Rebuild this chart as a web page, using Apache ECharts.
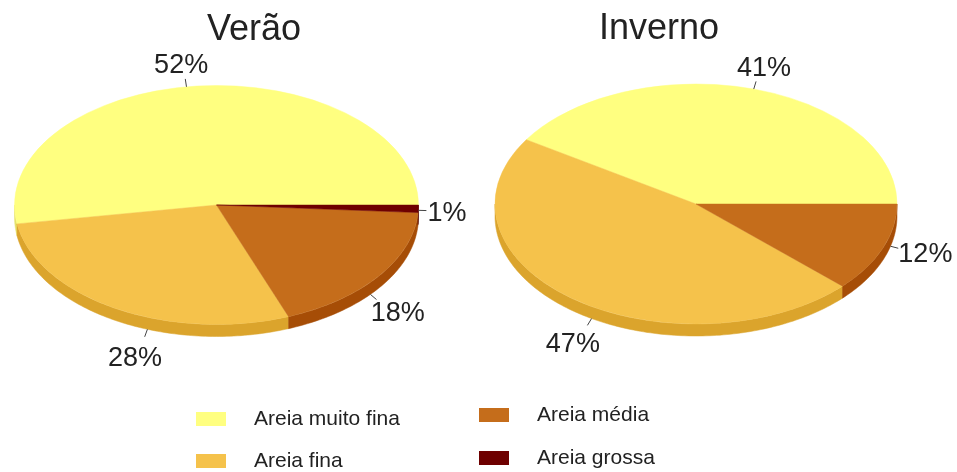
<!DOCTYPE html>
<html>
<head>
<meta charset="utf-8">
<script src="https://cdn.jsdelivr.net/npm/echarts@6/dist/echarts.min.js"></script>
<style>
html, body { margin: 0; padding: 0; background: #fff; }
#chart { width: 957px; height: 472px; }
</style>
</head>
<body>
<div id="chart"></div>
<script>
// tipos de areia (legenda)
var categories = ['Areia muito fina', 'Areia fina', 'Areia média', 'Areia grossa'];
var seasons = ['Verão', 'Inverno'];
// % por estação, na ordem de categories
var verao = [52, 28, 18, 1];
var inverno = [41, 47, 12, 0];

var topColors = ['#FFFF80', '#F5C24B', '#C56D1B', '#6E0000'];
var sideColors = ['#E6E26A', '#DBA42C', '#A64D06', '#4E0000'];

var seasonData = [verao, inverno];
// layout de cada pizza "3D": centro, raios, espessura, ajuste do angulo dos rotulos
var pies = [
  { cx: 216.5, cy: 205, rx: 202, ry: 119.5, depth: 12, titleX: 254, titleY: 30, labelShift: [4, 10, -4, 0] },
  { cx: 696, cy: 204, rx: 201, ry: 120, depth: 12, titleX: 659, titleY: 29, labelShift: [-0.5, 6.5, 7, 0] }
];
var FONT = '"Liberation Sans", Arial, sans-serif';
var RAD = Math.PI / 180;

var measureCtx = document.createElement('canvas').getContext('2d');
function textWidth(str, size) {
  measureCtx.font = size + 'px ' + FONT;
  return measureCtx.measureText(str).width;
}

// angulo inicial / final (graus, anti-horario a partir das 3h)
function sliceAngles(values, idx) {
  var total = values.reduce(function (a, b) { return a + b; }, 0);
  var before = 0;
  for (var i = 0; i < idx; i++) before += values[i];
  return [before / total * 360, (before + values[idx]) / total * 360];
}

function renderSlice(params, api) {
  var cat = params.seriesIndex;
  var s = params.dataIndex;
  var value = api.value(0);
  if (!value) return null;
  var p = pies[s];
  var ang = sliceAngles(seasonData[s], cat);
  var a0 = ang[0], a1 = ang[1];
  var children = [];

  // lateral, so onde a borda fica de frente (180..360)
  var lo = Math.max(a0, 180), hi = Math.min(a1, 360);
  if (hi > lo) {
    var front = [], back = [];
    var steps = Math.max(2, Math.ceil(hi - lo));
    for (var k = 0; k <= steps; k++) {
      var a = (lo + (hi - lo) * k / steps) * RAD;
      var x = p.cx + p.rx * Math.cos(a);
      var y = p.cy - p.ry * Math.sin(a);
      front.push([x, y]);
      back.unshift([x, y + p.depth]);
    }
    children.push({
      type: 'polygon', z2: 1,
      shape: { points: front.concat(back) },
      style: { fill: sideColors[cat], stroke: sideColors[cat], lineWidth: 0.5 }
    });
  }

  // face de cima: setor achatado numa elipse
  children.push({
    type: 'group', x: p.cx, y: p.cy, scaleY: p.ry / p.rx,
    children: [{
      type: 'sector', z2: 2,
      shape: { cx: 0, cy: 0, r0: 0, r: p.rx, startAngle: -a0 * RAD, endAngle: -a1 * RAD, clockwise: false },
      style: { fill: topColors[cat], stroke: topColors[cat], lineWidth: 0.6 }
    }]
  });

  // rotulo % + linha guia
  var m = ((a0 + a1) / 2 + p.labelShift[cat]) * RAD;
  var c = Math.cos(m), sn = Math.sin(m);
  var below = Math.max(0, -sn);
  var ex = p.cx + p.rx * c;
  var ey = p.cy - p.ry * sn + p.depth * Math.min(1, below * 4);
  var lx = ex + 8 * c, ly = ey - 8 * sn;
  var txt = value + '%';
  var w = textWidth(txt, 27);
  children.push({
    type: 'polyline', z2: 3,
    shape: { points: [[ex, ey], [lx, ly]] },
    style: { stroke: '#444', lineWidth: 1, fill: null }
  });
  children.push({
    type: 'text', z2: 3,
    style: {
      x: lx + c * (w / 2 + 1), y: ly - sn * 16 + 2 + 5 * below * below,
      text: txt, fill: '#222', font: '27px ' + FONT,
      align: 'center', verticalAlign: 'middle',
      textAlign: 'center', textVerticalAlign: 'middle'
    }
  });
  return { type: 'group', children: children };
}

var legendText = {
  fontSize: 21, lineHeight: 22, color: '#222', fontFamily: FONT, padding: [0, 0, 0, 23]
};

var chart = echarts.init(document.getElementById('chart'));
chart.setOption({
  animation: false,
  graphic: pies.map(function (p, i) {
    return {
      type: 'text', x: p.titleX, y: p.titleY,
      style: {
        text: seasons[i], font: '36px ' + FONT, fill: '#222',
        align: 'center', verticalAlign: 'middle',
        textAlign: 'center', textVerticalAlign: 'middle'
      }
    };
  }),
  legend: [{
    data: categories.slice(0, 2), left: 196, top: 408, height: 80, padding: 0,
    orient: 'vertical', icon: 'rect', itemWidth: 30, itemHeight: 14, itemGap: 20,
    selectedMode: false, textStyle: legendText
  }, {
    data: categories.slice(2), left: 479, top: 404, height: 80, padding: 0,
    orient: 'vertical', icon: 'rect', itemWidth: 30, itemHeight: 14, itemGap: 21,
    selectedMode: false, textStyle: legendText
  }],
  series: categories.map(function (name, i) {
    return {
      type: 'custom',
      name: name,
      coordinateSystem: 'none',
      renderItem: renderSlice,
      itemStyle: { color: topColors[i] },
      data: [verao[i], inverno[i]]
    };
  })
});
</script>
</body>
</html>
